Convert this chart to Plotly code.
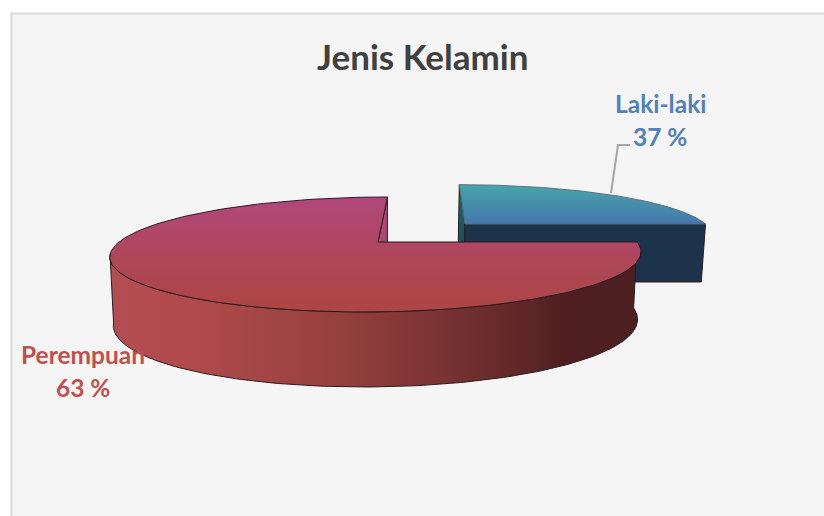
import numpy as np
import plotly.graph_objects as go

# labels printed on the chart
categories = ['Laki-laki', 'Perempuan']
percents = [37, 63]
# share of the circle each slice really covers in the picture
drawn_share = [0.25, 0.75]

label_colors = ['#4f81bd', '#c0504d']
FONT = 'Lato, Carlito, Calibri, sans-serif'

# projection of the pie plane onto the page (pixels)
CX, CY = 378, 242
RX, RY = 259, 54.8
PERSP = 0.217
SKEW = 11.5
EXPLODE = (0.346, 0.354)


def project(u, v):
    u, v = np.asarray(u, float), np.asarray(v, float)
    w = 1 + PERSP * v
    return CX + (RX * u + SKEW * v) / w, CY - RY * v / w


def lower(x, y, drop):
    return CX + (x - CX) * 0.987, y + drop


def arc(deg_from, deg_to, shift=(0, 0), n=160):
    t = np.radians(np.linspace(deg_from, deg_to, n))
    return np.cos(t) + shift[0], np.sin(t) + shift[1]


def poly(fig, x, y, grad, stops, line='#2a1c1e', width=1):
    fig.add_trace(go.Scatter(
        x=np.append(x, x[0]), y=np.append(y, y[0]),
        mode='lines', fill='toself',
        line=dict(color=line, width=width),
        fillgradient=dict(type=grad, colorscale=stops),
        hoverinfo='skip', showlegend=False
    ))


fig = go.Figure()

# slices start at 3 o'clock: blue runs counter-clockwise, red clockwise
blue_sweep = drawn_share[0] * 360
red_sweep = drawn_share[1] * 360

# --- exploded blue slice, drawn first since it sits behind
ax, ay = project([EXPLODE[0]], [EXPLODE[1]])
bu, bv = arc(0, blue_sweep, EXPLODE)
bx, by = project(bu, bv)

# wall along the 12 o'clock radius
x_low, y_low = lower(np.array([bx[-1], ax[0]]), np.array([by[-1], ay[0]]), 58)
poly(fig, np.array([bx[-1], ax[0], x_low[1], x_low[0]]),
     np.array([by[-1], ay[0], y_low[1], y_low[0]]),
     'vertical', [[0, '#1c3c50'], [1, '#1f6a70']])
# wall along the 3 o'clock radius
x_low, y_low = lower(np.array([ax[0], bx[0]]), np.array([ay[0], by[0]]), 58)
poly(fig, np.array([ax[0], bx[0], x_low[1], x_low[0]]),
     np.array([ay[0], by[0], y_low[1], y_low[0]]),
     'vertical', [[0, '#1d334c'], [1, '#1d334c']])
# top, gradient stops run from the low y value (top of page) upward in data order
poly(fig, np.append(ax, bx), np.append(ay, by),
     'vertical', [[0, '#4577ae'], [1, '#47a5a9']], line='#5a6f80')

# --- red slice
rx0, ry0 = project([0], [0])
ru, rv = arc(0, -red_sweep)
rx, ry = project(ru, rv)

# wall along the 12 o'clock radius, only a sliver shows above the top face
x_low, y_low = lower(np.array([rx[-1], rx0[0]]), np.array([ry[-1], ry0[0]]), 60)
poly(fig, np.array([rx[-1], rx0[0], x_low[1], x_low[0]]),
     np.array([ry[-1], ry0[0], y_low[1], y_low[0]]),
     'vertical', [[0, '#ae4766'], [1, '#b0477a']])

# outer rim, front part of the circle only
fu, fv = arc(0, -180 + np.degrees(np.arcsin(PERSP)))
fx, fy = project(fu, fv)
low_x, low_y = lower(fx, fy, 66 - 9 * fv)
poly(fig, np.append(fx, low_x[::-1]), np.append(fy, low_y[::-1]), 'horizontal',
     [[0, '#b44d52'], [0.15, '#b04a4c'], [0.4, '#99423f'], [0.6, '#7d3535'],
      [0.8, '#5c2526'], [0.85, '#4f1f20'], [1, '#4c1f20']])

# top
poly(fig, np.append(rx0, rx), np.append(ry0, ry),
     'vertical', [[0, '#ad4542'], [0.45, '#ae475a'], [1, '#b1477c']])

# frame of the chart area, cut by the page on the right and bottom
fig.add_shape(type='rect', x0=11.5, y0=13.5, x1=900, y1=600, layer='below',
              line=dict(color='#d9d9d9', width=2), fillcolor='#f5f5f5')

# leader line of the blue label
fig.add_trace(go.Scatter(
    x=[611, 618, 630], y=[193, 145, 145], mode='lines',
    line=dict(color='#a6a6a6', width=2),
    hoverinfo='skip', showlegend=False
))

fig.add_annotation(x=422, y=56, text='<b>Jenis Kelamin</b>', showarrow=False,
                   font=dict(family=FONT, size=35, color='#404040'))

label_pos = [(660, 103, 136), (83, 354, 387)]
for name, pct, color, (lx, y1, y2) in zip(categories, percents, label_colors, label_pos):
    fig.add_annotation(x=lx, y=y1, text=f'<b>{name}</b>', showarrow=False,
                       font=dict(family=FONT, size=24.5, color=color))
    fig.add_annotation(x=lx, y=y2, text=f'<b>{pct} %</b>', showarrow=False,
                       font=dict(family=FONT, size=24.5, color=color))

fig.update_xaxes(range=[0, 824], visible=False, fixedrange=True)
fig.update_yaxes(range=[516, 0], visible=False, fixedrange=True)
fig.update_layout(
    width=824,
    height=516,
    margin=dict(l=0, r=0, b=0, t=0),
    paper_bgcolor='white',
    plot_bgcolor='white'
)

fig.write_html("out.html", config=dict(displayModeBar=False),
               post_script="document.body.style.margin='0';")
